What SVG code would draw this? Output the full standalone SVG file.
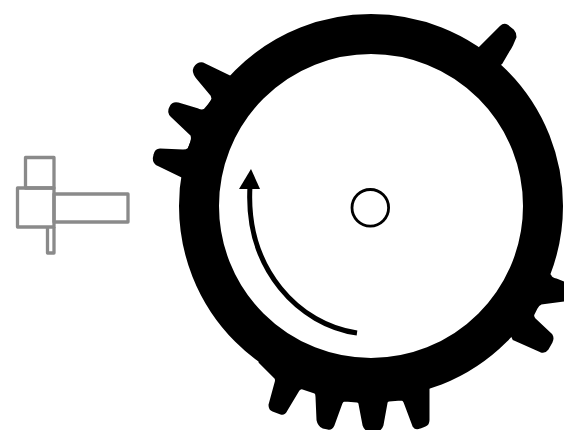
<svg xmlns="http://www.w3.org/2000/svg" width="564" height="430" viewBox="0 0 564 430">
<style>
.part{fill:none;stroke:#8a8a8a;stroke-width:3.300;stroke-linejoin:round}
.tooth{fill:#000;stroke:#000;stroke-width:3;stroke-linejoin:round}
</style>
<rect width="564" height="430" fill="#fff"/>
<g id="wheel">
<path class="tooth" d="M232 78L203 64Q198 63 195 68Q193 72 197 77L212 95Q214 99 212 102L205 110Q202 112 198 110L178 104Q173 103 171 107Q168 112 172 116L192 135Q193 138 192 142L189 149Q187 151 183 151L160 150Q156 150 155 155Q153 161 157 164L190 180Z"/>
<path class="tooth" d="M260 362L276 378Q277 380 276 383L270 405Q270 409 273 410L281 413Q284 414 286 410L298 390Q300 387 303 388L315 392Q317 393 317 397L318 420Q319 425 323 427L328 428Q331 429 333 425L341 403Q342 400 345 400L357 401Q360 401 360 404L364 425Q366 431 373 431Q380 431 382 425L386 403Q386 400 389 400L401 399Q404 399 405 402L414 426Q416 429 420 427L425 425Q428 424 428 420L428 385Z"/>
<path class="tooth" d="M480 48L501 27Q504 24 507 26L513 31Q515 33 515 37L512 44Q510 48 508 51L501 63L490 70Z"/>
<path class="tooth" d="M540 268L550 276Q551 279 556 280L564 283V300L541 303Q538 304 536 308L533 314Q532 316 534 319L551 335Q553 338 551 342L547 349Q545 352 541 351L514 339L500 310Z"/>
<circle cx="371" cy="206" r="172" fill="none" stroke="#000" stroke-width="40"/>
</g>
<g id="hub"><circle cx="370.300" cy="207.800" r="18.300" fill="#fff" stroke="#000" stroke-width="2.800"/></g>
<g id="arrow">
<path d="M357 333C300 325 245 270 250 186" fill="none" stroke="#000" stroke-width="5"/>
<path d="M251 169L239 189H260Z" fill="#000"/>
</g>
<g id="part">
<rect class="part" x="25.500" y="157.500" width="28.500" height="30.500"/>
<path class="part" d="M17.500 188H54V227H17.500Z"/>
<rect class="part" x="54" y="194" width="74" height="28"/>
<path class="part" d="M47.500 227V253H54V227"/>
</g>
</svg>
